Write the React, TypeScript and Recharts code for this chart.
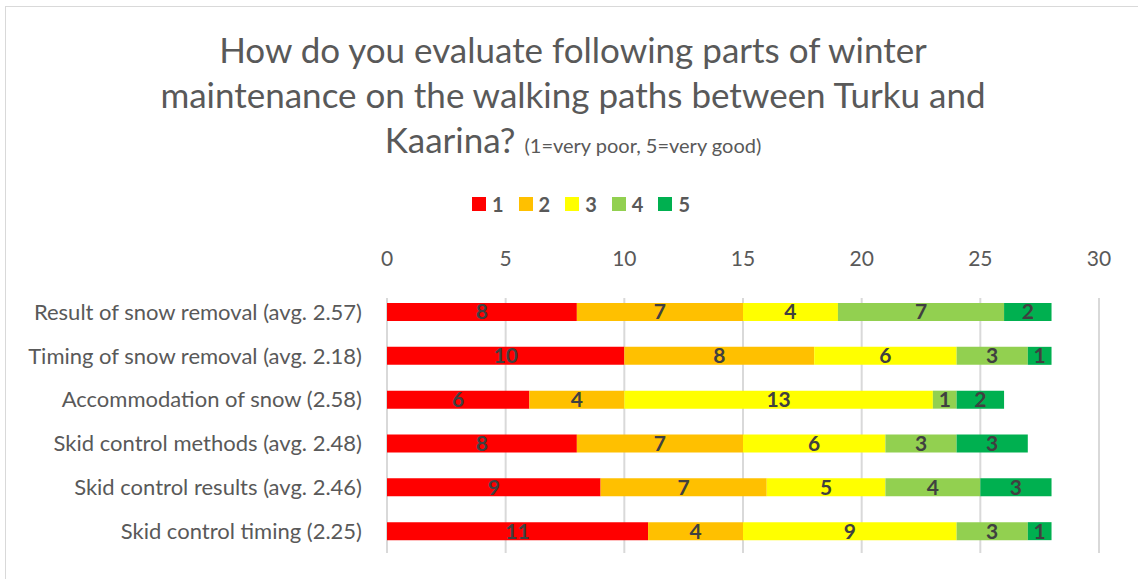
import { BarChart, Bar, XAxis, YAxis, CartesianGrid, Legend, LabelList } from "recharts";

const categories = [
    "Result of snow removal (avg. 2.57)",
    "Timing of snow removal (avg. 2.18)",
    "Accommodation of snow (2.58)",
    "Skid control methods (avg. 2.48)",
    "Skid control results (avg. 2.46)",
    "Skid control timing (2.25)",
];
const grade1 = [8, 10, 6, 8, 9, 11];
const grade2 = [7, 8, 4, 7, 7, 4];
const grade3 = [4, 6, 13, 6, 5, 9];
const grade4 = [7, 3, 1, 3, 4, 3];
const grade5 = [2, 1, 2, 3, 3, 1];
const xTicks = [0, 5, 10, 15, 20, 25, 30];

const seriesKeys = ["1", "2", "3", "4", "5"];
const seriesColors = ["#FF0000", "#FFC000", "#FFFF00", "#92D050", "#00B050"];

const data = categories.map((name, i) => ({
    name,
    "1": grade1[i],
    "2": grade2[i],
    "3": grade3[i],
    "4": grade4[i],
    "5": grade5[i],
}));

const FONT = "Lato, 'Open Sans', sans-serif";
const TEXT = "#595959";

function LegendContent({ payload = [] }: { payload?: any[] }) {
    return (
        <div style={{ display: "flex", justifyContent: "flex-start", fontFamily: FONT, height: 20 }}>
            {payload.map((p) => (
                <div key={p.value} style={{ display: "flex", alignItems: "center", marginRight: 15 }}>
                    <span style={{ width: 14, height: 14, background: p.color, display: "inline-block", marginRight: 6 }} />
                    <span style={{ fontSize: 20, fontWeight: 700, color: TEXT, lineHeight: "20px" }}>{p.value}</span>
                </div>
            ))}
        </div>
    );
}

export default function App() {
    return (
        <div style={{ position: "absolute", left: 0, top: 0, width: 1138, height: 579, background: "#fff", overflow: "hidden" }}>
            <div style={{ position: "absolute", left: 5, top: 6, width: 1140, height: 580, border: "1px solid #d9d9d9" }} />
            <div
                style={{
                    position: "absolute",
                    left: 0,
                    top: 27,
                    width: 1146,
                    textAlign: "center",
                    fontFamily: FONT,
                    fontSize: 35,
                    lineHeight: "45px",
                    color: TEXT,
                }}
            >
                <div>How do you evaluate following parts of winter</div>
                <div>maintenance on the walking paths between Turku and</div>
                <div>
                    Kaarina? <span style={{ fontSize: 20 }}>(1=very poor, 5=very good)</span>
                </div>
            </div>
            <div style={{ position: "absolute", left: 0, top: 0 }}>
                <BarChart
                    width={1138}
                    height={579}
                    data={data}
                    layout="vertical"
                    margin={{ top: 240, right: 39, left: 0, bottom: 26 }}
                    barSize={18}
                >
                    <CartesianGrid horizontal={false} stroke="#d9d9d9" strokeWidth={2} y={298} height={255} />
                    <XAxis
                        type="number"
                        orientation="top"
                        height={30}
                        domain={[0, 30]}
                        ticks={xTicks}
                        interval={0}
                        axisLine={false}
                        tickLine={false}
                        tickSize={0}
                        tickMargin={24}
                        tick={{ fontSize: 21, fill: TEXT, fontFamily: FONT }}
                    />
                    <YAxis
                        type="category"
                        dataKey="name"
                        width={387}
                        axisLine={false}
                        tickLine={false}
                        tickSize={0}
                        tickMargin={25}
                        interval={0}
                        tick={{ fontSize: 22, fill: TEXT, fontFamily: FONT }}
                    />
                    <Legend
                        verticalAlign="top"
                        height={20}
                        content={<LegendContent />}
                        wrapperStyle={{ position: "absolute", top: 194, left: 472, width: 240 }}
                    />
                    {seriesKeys.map((k, i) => (
                        <Bar key={k} dataKey={k} stackId="a" fill={seriesColors[i]} isAnimationActive={false}>
                            <LabelList
                                dataKey={k}
                                position="center"
                                fill="#404040"
                                style={{ fontSize: 21, fontWeight: 700, fontFamily: FONT }}
                            />
                        </Bar>
                    ))}
                </BarChart>
            </div>
        </div>
    );
}
